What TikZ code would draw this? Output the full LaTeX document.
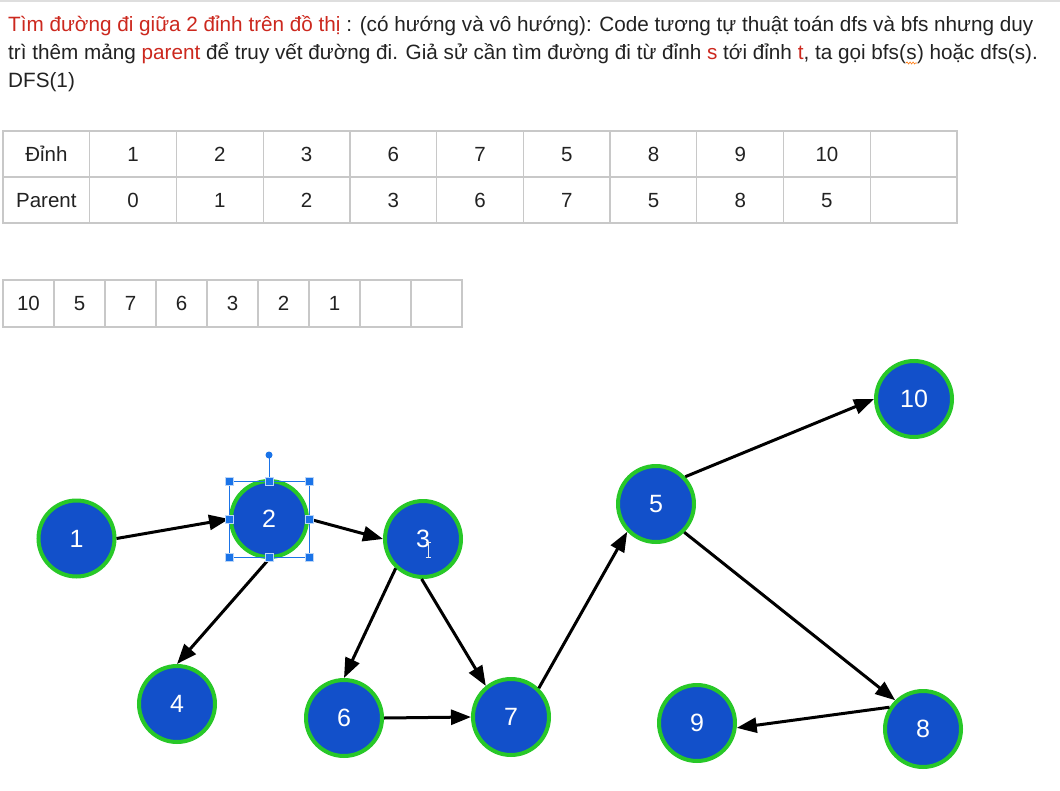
\documentclass[tikz,border=0pt]{standalone}
\usepackage{fontspec}
\setmainfont{Liberation Sans}
\usetikzlibrary{arrows.meta,decorations.pathmorphing}
\definecolor{nodeblue}{RGB}{18,80,202}
\definecolor{nodegreen}{RGB}{40,200,40}
\definecolor{txtred}{RGB}{204,40,30}
\definecolor{gridgray}{RGB}{200,200,200}
\definecolor{txtgray}{RGB}{34,34,34}
\definecolor{selblue}{RGB}{26,115,232}
\definecolor{topgray}{RGB}{222,222,222}
\begin{document}
\begin{tikzpicture}[x=1bp,y=-1bp,
  vertex/.style={circle, fill=nodeblue, draw=nodegreen, line width=4bp, minimum size=76bp, inner sep=0pt, text=white, font=\fontsize{25bp}{29bp}\selectfont},
  edge/.style={line width=3bp, black, -{Triangle[length=20bp,width=15bp]}},
  cellbox/.style={draw=gridgray, line width=1.3bp, inner sep=0pt},
  celltext/.style={inner sep=0pt, text height=14.5bp, text depth=0pt, text=txtgray, font=\fontsize{20.5bp}{24bp}\selectfont},
  bodytext/.style={anchor=base west, inner sep=0pt, text=txtgray, font=\fontsize{20.7bp}{24bp}\selectfont}
]
\useasboundingbox[fill=white] (0,0) rectangle (1060,791);
\fill[topgray] (0,0) rectangle (1060,2);

% heading text
\node[bodytext] (l1) at (8,31.5) {\textcolor{txtred}{Tìm đường đi giữa 2 đỉnh trên đồ thị} : (có hướng và vô hướng): Code tương tự thuật toán dfs và bfs nhưng duy};
\node[bodytext] (l2a) at (8,59.5) {trì thêm mảng \textcolor{txtred}{parent} để truy vết đường đi. Giả sử cần tìm đường đi từ đỉnh \textcolor{txtred}{s} tới đỉnh \textcolor{txtred}{t}, ta gọi bfs(};
\node[bodytext] (l2s) at (l2a.base east) {s};
\node[bodytext] (l2b) at (l2s.base east) {) hoặc dfs(s).};
\node[bodytext] (l3) at (8,87.5) {DFS(1)};
\draw[orange!90!red, line width=0.6bp, decorate, decoration={snake, amplitude=1bp, segment length=3bp}] ([yshift=-3.5bp]l2s.base west) -- ([yshift=-3.5bp]l2s.base east);

% table 1
\foreach \k in {0,...,10} {
  \node[cellbox, minimum width=86.73bp, minimum height=46bp] (ta\k) at ({3+86.73*(\k+0.5)},154) {};
  \node[cellbox, minimum width=86.73bp, minimum height=46bp] (tb\k) at ({3+86.73*(\k+0.5)},200) {};
}
\foreach \t [count=\k from 0] in {Đỉnh,1,2,3,6,7,5,8,9,10}
  \node[celltext] (la\k) at (ta\k) {\t};
\foreach \t [count=\k from 0] in {Parent,0,1,2,3,6,7,5,8,5}
  \node[celltext] (lb\k) at (tb\k) {\t};

% table 2
\foreach \k in {0,...,8}
  \node[cellbox, minimum width=51bp, minimum height=47bp] (tc\k) at ({3+51*(\k+0.5)},303.5) {};
\foreach \t [count=\k from 0] in {10,5,7,6,3,2,1}
  \node[celltext] (lc\k) at (tc\k) {\t};

% graph nodes
\node[vertex] (n1) at (76.5,538.5) {1};
\node[vertex] (n2) at (269,519) {2};
\node[vertex] (n3) at (423,539) {3};
\node[vertex] (n4) at (177,704) {4};
\node[vertex] (n5) at (656,504) {5};
\node[vertex] (n6) at (344,718) {6};
\node[vertex] (n7) at (511,717) {7};
\node[vertex] (n8) at (923,729) {8};
\node[vertex] (n9) at (697,723) {9};
\node[vertex] (n10) at (914,399) {10};

% edges
\draw[edge] (n1.east) -- (n2.west);
\draw[edge] (n2.east) -- (n3.west);
\draw[edge] (n2.south) -- (n4.north);
\draw[edge] (n3.227) -- (n6.north);
\draw[edge] (n3.268) -- (n7.129);
\draw[edge] (n6.east) -- (n7.west);
\draw[edge] (n7.46) -- (n5.224);
\draw[edge] (n5.43) -- (n10.west);
\draw[edge] (n5.-45) -- (n8.134);
\draw[edge] (n8.147) -- (n9.-7);

% selection handles on node 2
\draw[selblue, line width=0.8bp] (229,481) rectangle (309,557);
\draw[selblue, line width=0.8bp] (269,481) -- (269,458);
\fill[selblue] (269,455) circle (3.5bp);
\foreach \p in {(229,481),(269,481),(309,481),(229,519),(309,519),(229,557),(269,557),(309,557)}
  \draw[fill=selblue, draw=white!70!selblue, line width=0.6bp] \p ++(-3.8,-3.8) rectangle ++(7.6,7.6);

% text cursor over node 3
\draw[white!85!gray, line width=1bp] (428,542) -- (428,557) (425.5,542) -- (430.5,542) (425.5,557) -- (430.5,557);
\end{tikzpicture}
\end{document}
